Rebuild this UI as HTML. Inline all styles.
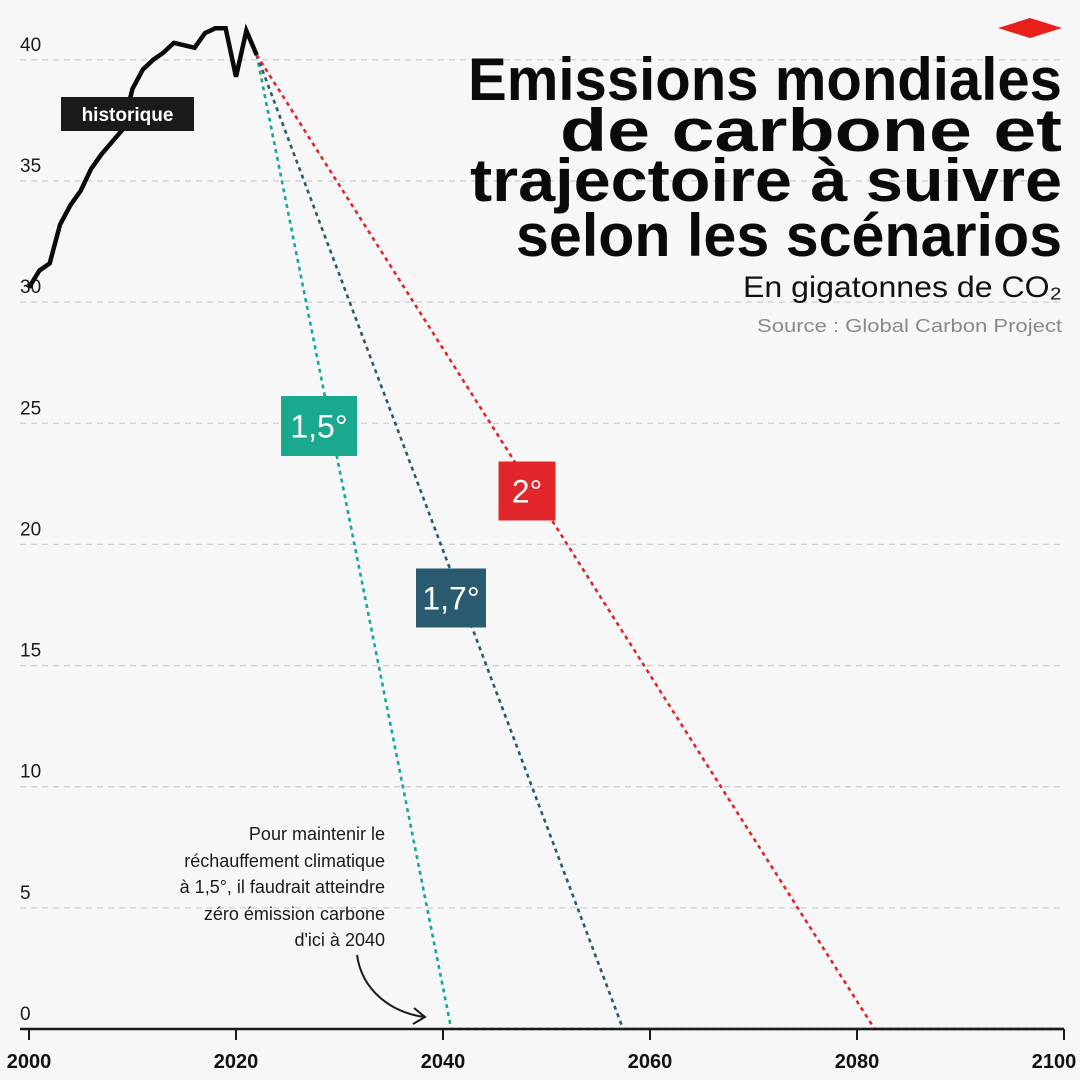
<!DOCTYPE html>
<html><head><meta charset="utf-8"><style>
html,body{margin:0;padding:0;background:#f7f7f7;}
svg{display:block;font-family:"Liberation Sans",sans-serif;}
</style></head><body>
<svg id="chart" width="1080" height="1080" viewBox="0 0 1080 1080">
<rect width="1080" height="1080" fill="#f7f7f7"/>
<g id="grid"></g>
<g id="series"></g>
<g id="axis"></g>
<polygon points="998,28 1030,18 1062,28 1030,38" fill="#e8201b"/>
<g font-weight="bold" font-size="60" text-anchor="end" fill="#0a0a0a">
<text x="1062" y="100" textLength="594" lengthAdjust="spacingAndGlyphs">Emissions mondiales</text>
<text x="1062" y="151" textLength="502" lengthAdjust="spacingAndGlyphs">de carbone et</text>
<text x="1062" y="201" textLength="592" lengthAdjust="spacingAndGlyphs">trajectoire à suivre</text>
<text x="1062" y="256" textLength="546" lengthAdjust="spacingAndGlyphs">selon les scénarios</text>
</g>
<text x="1062" y="297" font-size="30" text-anchor="end" fill="#111" textLength="319" lengthAdjust="spacingAndGlyphs">En gigatonnes de CO₂</text>
<text x="1062" y="332" font-size="18" text-anchor="end" fill="#8a8a8a" textLength="305" lengthAdjust="spacingAndGlyphs">Source : Global Carbon Project</text>
<g font-size="18" text-anchor="end" fill="#1a1a1a">
<text x="385" y="840">Pour maintenir le</text>
<text x="385" y="867">réchauffement climatique</text>
<text x="385" y="893">à 1,5°, il faudrait atteindre</text>
<text x="385" y="920">zéro émission carbone</text>
<text x="385" y="946">d'ici à 2040</text>
</g>
<path d="M357,955 C362,990 390,1012 424,1017 M414,1008 L425,1017 L413,1024" fill="none" stroke="#1a1a1a" stroke-width="2"/>
<g id="labels"></g>
</svg>
<script>
const years=[2000,2001,2002,2003,2004,2005,2006,2007,2008,2009,2010,2011,2012,2013,2014,2015,2016,2017,2018,2019,2020,2021,2022];
const histValues=[30.6,31.3,31.6,33.2,34.0,34.6,35.5,36.1,36.6,37.1,38.8,39.6,40.0,40.3,40.7,40.6,40.5,41.1,41.3,41.3,39.3,41.2,40.2];
const scenarioNames=["1,5°","1,7°","2°"];
const scenarioZeroYears=[2040.8,2057.4,2081.7];
const scenarioColors=["#1aa88e","#2a5a70","#e0262a"];
const yTicks=[0,5,10,15,20,25,30,35,40];
const xTicks=[2000,2020,2040,2060,2080,2100];
const NS="http://www.w3.org/2000/svg";
const X=y=>29+(y-2000)*10.35;
const Y=v=>1029-v*24.23;
function mk(tag,attrs,parent){const e=document.createElementNS(NS,tag);for(const k in attrs)e.setAttribute(k,attrs[k]);parent.appendChild(e);return e;}
const grid=document.getElementById('grid'),series=document.getElementById('series'),axis=document.getElementById('axis'),labels=document.getElementById('labels');
yTicks.forEach(t=>{
  if(t>0){const l=mk('line',{x1:20,x2:1062,y1:Y(t),y2:Y(t),stroke:'#cfcfcf','stroke-width':1.3,'stroke-dasharray':'6 5'},grid);
  
  }
  const tx=mk('text',{x:20,y:Y(t)-9,'font-size':19,fill:'#1a1a1a'},grid);
  tx.textContent=t;
  
  
});
const last=histValues[histValues.length-1],lastYear=years[years.length-1];
scenarioZeroYears.forEach((z,i)=>{
  const p=mk('polyline',{points:`${X(lastYear)},${Y(last)} ${X(z)},${Y(0)} ${X(2100)},${Y(0)}`,fill:'none',stroke:scenarioColors[i],'stroke-width':2.6,'stroke-dasharray':'4 4'},series);
  
  
});
const hp=mk('polyline',{points:years.map((y,i)=>X(y)+','+Y(histValues[i])).join(' '),fill:'none',stroke:'#0a0a0a','stroke-width':4.5,'stroke-linejoin':'miter'},series);


const ax=mk('line',{x1:20,x2:1064,y1:1029,y2:1029,stroke:'#1a1a1a','stroke-width':2.5},axis);


xTicks.forEach(t=>{
  const l=mk('line',{x1:X(t),x2:X(t),y1:1029,y2:1040,stroke:'#1a1a1a','stroke-width':2},axis);
  
  
  const tx=mk('text',{x:Math.min(X(t),1054),y:1068,'font-size':20,'font-weight':'bold','text-anchor':'middle',fill:'#111'},axis);
  tx.textContent=t;
  
  
});
function badge(name,text,cx,cy,w,h,bg,fs){
  const g=mk('g',{},labels);
  
  
  mk('rect',{x:cx-w/2,y:cy-h/2,width:w,height:h,fill:bg},g);
  const t=mk('text',{x:cx,y:cy+fs*0.36,'font-size':fs,'text-anchor':'middle',fill:'#fff','font-weight':fs<25?'bold':'normal'},g);
  t.textContent=text;
}
badge('label-historique','historique',127.5,114,133,34,'#1a1a1a',19);
const lblPos=[[319,426,76,60],[451,598,70,59],[527,491,57,59]];
scenarioNames.forEach((n,i)=>badge('label-scenario-'+i,n,lblPos[i][0],lblPos[i][1],lblPos[i][2],lblPos[i][3],scenarioColors[i],32));
</script>
</body></html>
